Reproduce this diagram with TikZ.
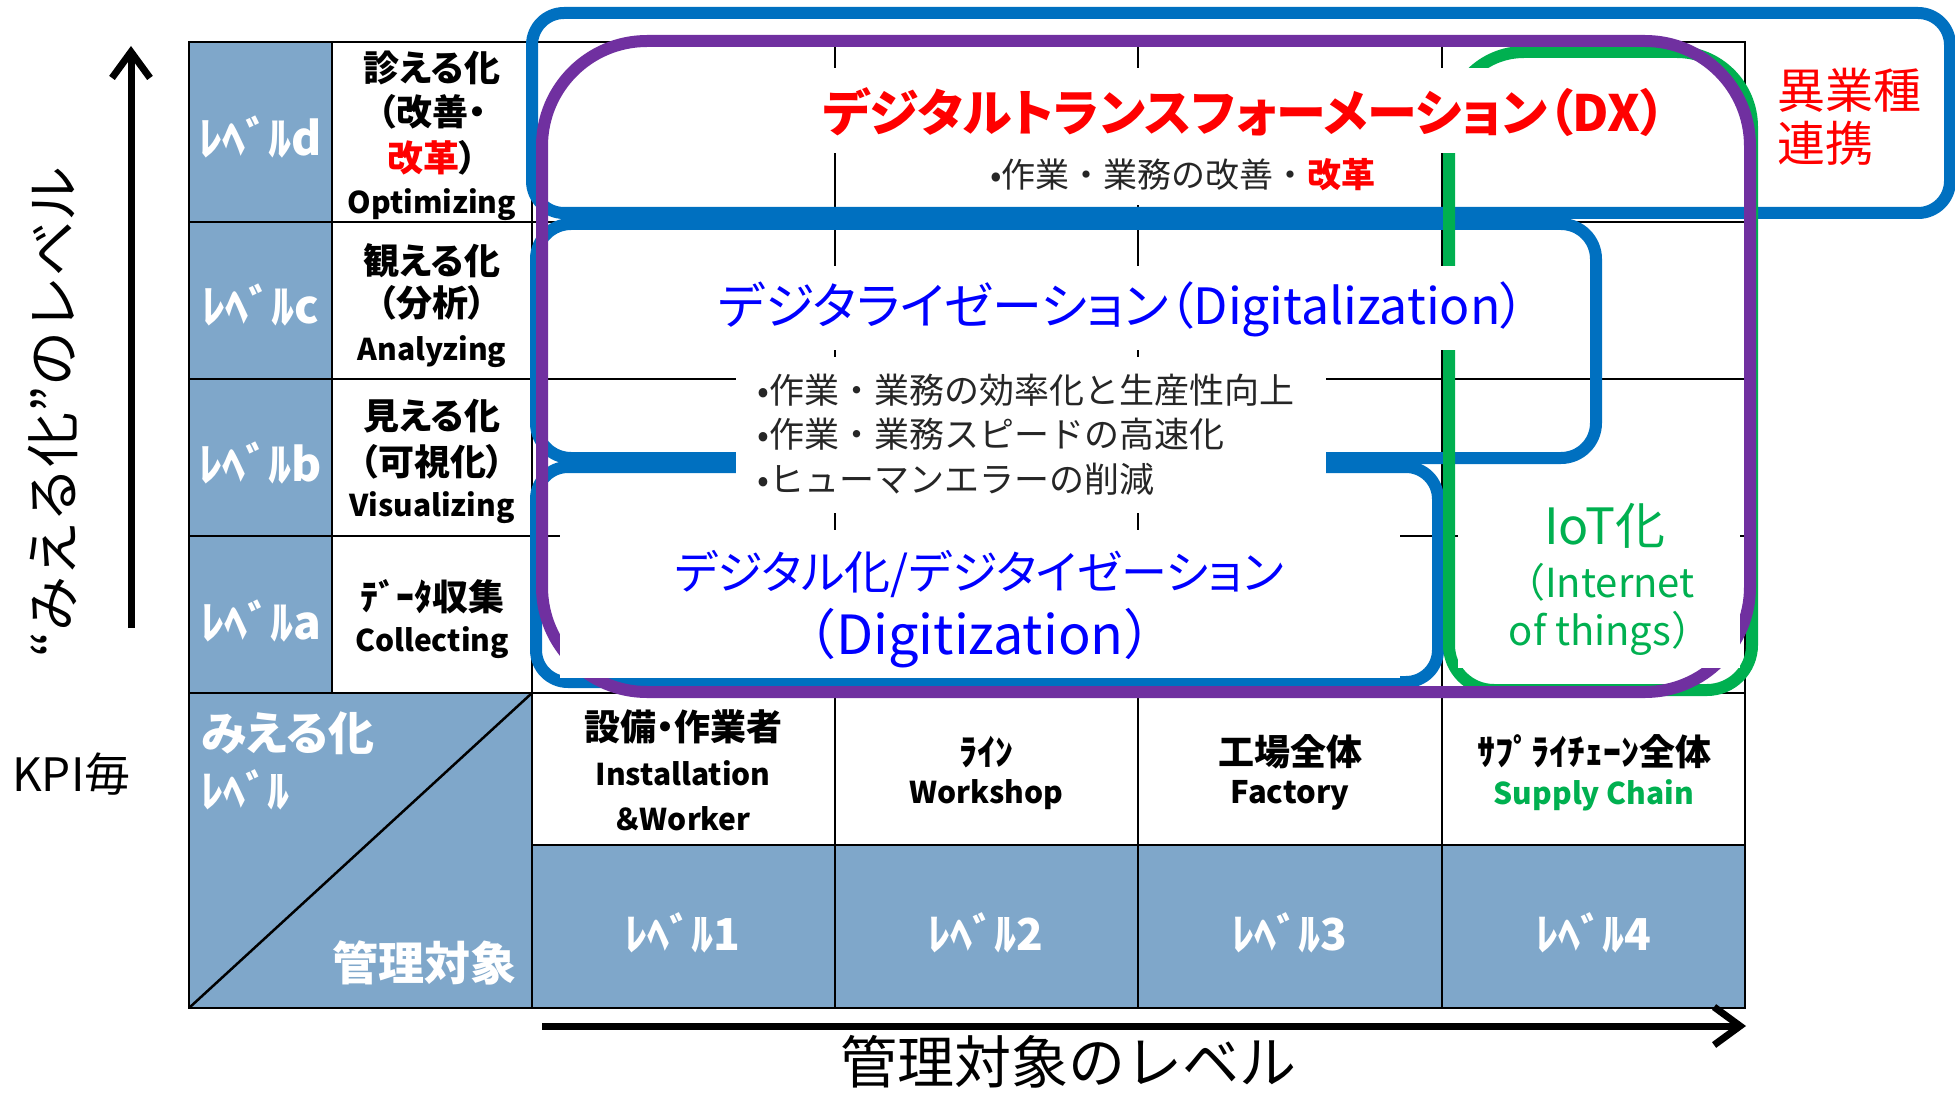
\documentclass[tikz,border=0pt]{standalone}
\usepackage{fontspec}
\setmainfont{Noto Sans CJK JP}[RawFeature=+palt]
\newfontfamily\jpfull{Noto Sans CJK JP}
\usetikzlibrary{arrows.meta}
\definecolor{cellblue}{RGB}{127,167,202}
\definecolor{lineblue}{HTML}{0070C0}
\definecolor{linepurple}{HTML}{7030A0}
\definecolor{linegreen}{HTML}{00B050}
\definecolor{txtblue}{HTML}{0000FF}
\definecolor{txtgreen}{HTML}{00B050}
\definecolor{txtgray}{HTML}{262626}
\begin{document}
\begin{tikzpicture}[x=1pt,y=-1pt,
  T/.style={inner sep=0pt, font=\fontsize{#1pt}{#1pt}\selectfont},
  TB/.style={inner sep=0pt, font=\fontsize{#1pt}{#1pt}\selectfont\bfseries},
  TF/.style={inner sep=0pt, font=\fontsize{#1pt}{#1pt}\selectfont\jpfull},
  grid/.style={line width=2.5pt, black},
  box/.style={line width=12pt},
  axis/.style={line width=7pt, -{Straight Barb[length=26pt,width=38pt]}, line join=round, line cap=butt}
]
% background / bounding box
\fill[white] (0,0) rectangle (1955,1094);
\useasboundingbox (0,0) rectangle (1955,1094);

% blue cells
\fill[cellblue] (189,42) rectangle (332,693);
\fill[cellblue] (189,693) rectangle (532,1008);
\fill[cellblue] (532,845) rectangle (1745,1008);

% grid
\draw[grid] (189,42) rectangle (1745,1008);
\foreach \yy in {222,379,536,693} \draw[grid] (189,\yy) -- (1745,\yy);
\draw[grid] (532,845) -- (1745,845);
\draw[grid] (332,42) -- (332,693);
\draw[grid] (532,42) -- (532,1008);
\foreach \xx in {835,1138,1442} \draw[grid] (\xx,42) -- (\xx,1008);
\draw[grid] (532,693) -- (189,1008);

% rounded boxes
\draw[box, lineblue, rounded corners=32pt] (532,13) rectangle (1950,213);
\draw[box, lineblue, rounded corners=35pt] (536,224) rectangle (1596,458);
\draw[box, lineblue, rounded corners=32pt] (536,467) rectangle (1438,682);
\draw[box, linegreen] (1449,127) arc[start angle=180, end angle=270, radius=75]
  -- (1677,52) arc[start angle=270, end angle=360, radius=75]
  -- (1752,645) arc[start angle=0, end angle=90, radius=45]
  -- (1494,690) arc[start angle=90, end angle=180, radius=45] -- cycle;
\draw[box, linepurple, rounded corners=105pt] (542,41) rectangle (1750,692);

% white backgrounds of the inner texts
\fill[white] (815,68) rectangle (1680,153);
\fill[white] (975,153) rectangle (1395,205);
\fill[white] (705,266) rectangle (1540,350);
\fill[white] (736,357) rectangle (1326,513);
\fill[white] (560,530) rectangle (1400,678);
\fill[white] (1458,495) rectangle (1740,668);

% axes
\coordinate (vs) at (131,628);
\coordinate (ve) at (131,46);
\draw[axis] (vs) -- (ve);
\coordinate (hs) at (542,1026);
\coordinate (he) at (1746,1026);
\draw[axis] (hs) -- (he);
\node[TF=55, rotate=90] (vlab) at (53,412) {“みえる化”のレベル};
\node[TF=57] (hlab) at (1068,1062) {管理対象のレベル};
\node[TF=46, anchor=west] (kpi) at (12,774) {KPI毎};

% level column
\node[TB=46, white] (ld) at (261,137) {ﾚﾍﾞﾙd};
\node[TB=46, white] (lc) at (261,305) {ﾚﾍﾞﾙc};
\node[TB=46, white] (lb) at (261,463) {ﾚﾍﾞﾙb};
\node[TB=46, white] (la) at (261,621) {ﾚﾍﾞﾙa};

% row labels
\node[TB=36] (d1) at (432,68) {診える化};
\node[TB=36] (d2) at (432,112) {（改善・};
\node[TB=36] (d3) at (432,158) {\textcolor{red}{改革}）};
\node[TB=30] (d4) at (432,205) {Optimizing};
\node[TB=36] (c1) at (432,261) {観える化};
\node[TB=36] (c2) at (432,303) {（分析）};
\node[TB=30] (c3) at (432,352) {Analyzing};
\node[TB=36] (b1) at (432,416) {見える化};
\node[TB=36] (b2) at (432,462) {（可視化）};
\node[TB=30] (b3) at (432,508) {Visualizing};
\node[TB=36] (a1) at (432,597) {ﾃﾞｰﾀ収集};
\node[TB=30] (a2) at (432,643) {Collecting};

% corner cell
\node[TB=46, white, anchor=west] (k1) at (201,733) {みえる化};
\node[TB=44, white, anchor=west] (k2) at (201,790) {ﾚﾍﾞﾙ};
\node[TB=46, white] (k3) at (424,963) {管理対象};

% column headers
\node[TB=36] (h1a) at (683,727) {設備・作業者};
\node[TB=30] (h1b) at (683,773) {Installation};
\node[TB=30] (h1c) at (683,819) {＆Worker};
\node[TB=36] (h2a) at (986,752) {ﾗｲﾝ};
\node[TB=30] (h2b) at (986,795) {Workshop};
\node[TB=36] (h3a) at (1290,752) {工場全体};
\node[TB=31] (h3b) at (1290,795) {Factory};
\node[TB=36] (h4a) at (1594,752) {ｻﾌﾟﾗｲﾁｪｰﾝ全体};
\node[TB=30, txtgreen] (h4b) at (1594,795) {Supply Chain};

% level row
\node[TB=44, white] (l1) at (683,933) {ﾚﾍﾞﾙ1};
\node[TB=44, white] (l2) at (986,933) {ﾚﾍﾞﾙ2};
\node[TB=44, white] (l3) at (1290,933) {ﾚﾍﾞﾙ3};
\node[TB=44, white] (l4) at (1594,933) {ﾚﾍﾞﾙ4};

% inner texts
\node[TB=50, red] (dx) at (1244,112) {デジタルトランスフォーメーション（DX）};
\node[TF=34, txtgray] (dxs) at (1183,175) {•作業・業務の改善・\textcolor{red}{\bfseries 改革}};
\node[T=50, txtblue] (dz) at (1122,309) {デジタライゼーション（Digitalization）};
\node[TF=35, txtgray, anchor=west] (bu1) at (757,390) {•作業・業務の効率化と生産性向上};
\node[TF=35, txtgray, anchor=west] (bu2) at (757,434) {•作業・業務スピードの高速化};
\node[TF=35, txtgray, anchor=west] (bu3) at (757,479) {•ヒューマンエラーの削減};
\node[T=46, txtblue] (dg1) at (979,574) {デジタル化/デジタイゼーション};
\node[TF=54, txtblue] (dg2) at (980,638) {（Digitization）};
\node[T=50, txtgreen] (iot1) at (1605,526) {IoT化};
\node[TF=40, txtgreen] (iot2) at (1600,582) {（Internet};
\node[TF=40, txtgreen] (iot3) at (1610,633) {of things）};
\node[T=48, red, anchor=west] (ig1) at (1777,90) {異業種};
\node[T=48, red, anchor=west] (ig2) at (1777,143) {連携};
\end{tikzpicture}
\end{document}
